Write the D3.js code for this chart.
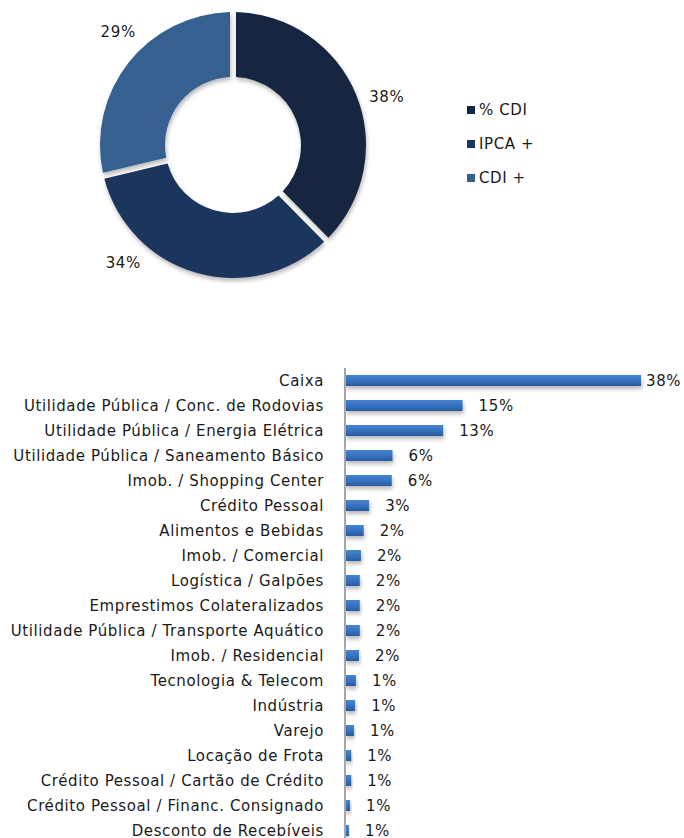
<!DOCTYPE html>
<html>
<head>
<meta charset="utf-8">
<script src="https://cdn.jsdelivr.net/npm/d3@7/dist/d3.min.js"></script>
<style>
  body { margin: 0; background: #fff; }
  text { font-family: "DejaVu Sans", Verdana, sans-serif; fill: #1a1a1a; letter-spacing: 0.6px; }
</style>
</head>
<body>
<div id="chart"></div>
<script>
// chart data
const indexers = ["% CDI", "IPCA +", "CDI +"];
const indexerShare = [38, 34, 29];
const indexerColors = ["#13263f", "#1a365d", "#36608f"];

const sectors = [
  "Caixa",
  "Utilidade Pública / Conc. de Rodovias",
  "Utilidade Pública / Energia Elétrica",
  "Utilidade Pública / Saneamento Básico",
  "Imob. / Shopping Center",
  "Crédito Pessoal",
  "Alimentos e Bebidas",
  "Imob. / Comercial",
  "Logística / Galpões",
  "Emprestimos Colateralizados",
  "Utilidade Pública / Transporte Aquático",
  "Imob. / Residencial",
  "Tecnologia & Telecom",
  "Indústria",
  "Varejo",
  "Locação de Frota",
  "Crédito Pessoal / Cartão de Crédito",
  "Crédito Pessoal / Financ. Consignado",
  "Desconto de Recebíveis"
];
const sectorShare = [38, 15.1, 12.6, 6.1, 6.0, 3.1, 2.4, 2.05, 1.9, 1.9, 1.9, 1.8, 1.4, 1.3, 1.15, 0.8, 0.8, 0.65, 0.5];

const width = 684;
const height = 838;

const svg = d3.select("#chart")
  .append("svg")
  .attr("width", width)
  .attr("height", height);

const defs = svg.append("defs");

// soft shadow like the office chart
const shadow = defs.append("filter")
  .attr("id", "shadow")
  .attr("x", "-10%").attr("y", "-20%")
  .attr("width", "130%").attr("height", "180%");
shadow.append("feDropShadow")
  .attr("dx", 1).attr("dy", 3)
  .attr("stdDeviation", 2)
  .attr("flood-color", "#000")
  .attr("flood-opacity", 0.28);

const barGrad = defs.append("linearGradient")
  .attr("id", "barGrad")
  .attr("x1", 0).attr("y1", 0).attr("x2", 0).attr("y2", 1);
barGrad.append("stop").attr("offset", "0%").attr("stop-color", "#4584d2");
barGrad.append("stop").attr("offset", "55%").attr("stop-color", "#3571bf");
barGrad.append("stop").attr("offset", "100%").attr("stop-color", "#2a5a9c");

// ---- donut ----
const cx = 233, cy = 145;
const outerR = 133, innerR = 68;

const pie = d3.pie().sort(null).value(d => d);
const arcs = pie(indexerShare);

const arc = d3.arc()
  .innerRadius(innerR)
  .outerRadius(outerR)
  .padAngle(0.05)
  .padRadius(120);

const donut = svg.append("g")
  .attr("transform", `translate(${cx},${cy})`);

donut.selectAll("path")
  .data(arcs)
  .enter().append("path")
  .attr("d", arc)
  .attr("fill", (d, i) => indexerColors[i])
  .attr("filter", "url(#shadow)");

// labels sit outside the ring; second one is pushed around like excel does
const labelShift = [0.087, 0.47, 0.108];
const labelR = 161;
donut.selectAll("text")
  .data(arcs)
  .enter().append("text")
  .attr("x", (d, i) => {
    const a = (d.startAngle + d.endAngle) / 2 + labelShift[i];
    return labelR * Math.sin(a);
  })
  .attr("y", (d, i) => {
    const a = (d.startAngle + d.endAngle) / 2 + labelShift[i];
    return -labelR * Math.cos(a);
  })
  .attr("text-anchor", "middle")
  .attr("dominant-baseline", "central")
  .attr("font-size", 15)
  .text(d => d.data + "%");

// legend
const legend = svg.append("g")
  .attr("transform", "translate(467,110)");

const legendRow = legend.selectAll("g")
  .data(indexers)
  .enter().append("g")
  .attr("transform", (d, i) => `translate(0,${i * 34})`);

legendRow.append("rect")
  .attr("x", 0).attr("y", -4)
  .attr("width", 8).attr("height", 8)
  .attr("fill", (d, i) => indexerColors[i]);

legendRow.append("text")
  .attr("x", 12)
  .attr("dominant-baseline", "central")
  .attr("font-size", 15)
  .text(d => d);

// ---- bars ----
const x = d3.scaleLinear()
  .domain([0, 38])
  .range([345, 641]);

const y = d3.scaleBand()
  .domain(sectors)
  .range([368, 843])
  .paddingInner(0.56)
  .paddingOuter(0.28);

const bars = svg.append("g");

bars.selectAll("rect")
  .data(sectors)
  .enter().append("rect")
  .attr("x", x(0))
  .attr("y", d => y(d))
  .attr("width", (d, i) => x(sectorShare[i]) - x(0))
  .attr("height", y.bandwidth())
  .attr("fill", "url(#barGrad)")
  .attr("filter", "url(#shadow)");

// axis line
svg.append("line")
  .attr("x1", x(0)).attr("x2", x(0))
  .attr("y1", 368).attr("y2", height)
  .attr("stroke", "#a6a6a6")
  .attr("stroke-width", 2);

// category labels
svg.append("g").selectAll("text")
  .data(sectors)
  .enter().append("text")
  .attr("x", 324)
  .attr("y", d => y(d) + y.bandwidth() / 2)
  .attr("text-anchor", "end")
  .attr("dominant-baseline", "central")
  .attr("font-size", 15)
  .text(d => d);

// value labels
svg.append("g").selectAll("text")
  .data(sectors)
  .enter().append("text")
  .attr("x", (d, i) => Math.min(x(sectorShare[i]) + 16, width - 38))
  .attr("y", d => y(d) + y.bandwidth() / 2)
  .attr("dominant-baseline", "central")
  .attr("font-size", 15)
  .text((d, i) => Math.round(sectorShare[i]) + "%");
</script>
</body>
</html>
